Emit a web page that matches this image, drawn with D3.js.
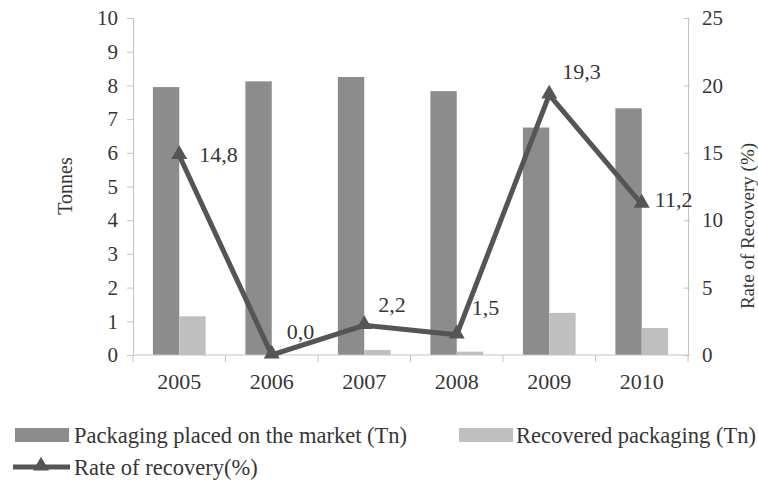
<!DOCTYPE html>
<html>
<head>
<meta charset="utf-8">
<script src="https://cdn.jsdelivr.net/npm/d3@7"></script>
<style>
    html, body { margin: 0; padding: 0; background: #fff; }
    svg text { font-family: "Liberation Serif", "DejaVu Serif", serif; fill: #363636; }
</style>
</head>
<body>
<svg id="chart" width="758" height="481"></svg>
<script>
// Data
const years = ['2005', '2006', '2007', '2008', '2009', '2010'];
const placedOnMarket = [7.95, 8.12, 8.25, 7.83, 6.75, 7.32];
const recovered = [1.15, 0, 0.15, 0.1, 1.25, 0.8];
const recoveryRate = [14.8, 0.0, 2.2, 1.5, 19.3, 11.2];
const leftTicks = [0, 1, 2, 3, 4, 5, 6, 7, 8, 9, 10];
const rightTicks = [0, 5, 10, 15, 20, 25];

const DARK = '#8c8c8c';
const LIGHT = '#bfbfbf';
const LINE = '#555555';
const AXIS = '#c4c4c4';

const svg = d3.select('#chart');
const margin = { top: 18, right: 70, bottom: 126, left: 133 };
const width = 758 - margin.left - margin.right;
const height = 481 - margin.top - margin.bottom;

const g = svg.append('g').attr('transform', `translate(${margin.left},${margin.top})`);

const x0 = d3.scaleBand().domain(years).range([0, width])
    .paddingInner(0.43).paddingOuter(0.215);
const x1 = d3.scaleBand().domain(['market', 'recovered']).range([0, x0.bandwidth()]);
const y = d3.scaleLinear().domain([0, 10]).range([height, 0]);
const yR = d3.scaleLinear().domain([0, 25]).range([height, 0]);

// Bars
const rows = years.map((yr, i) => ({ year: yr, market: placedOnMarket[i], recovered: recovered[i] }));
const groups = g.selectAll('.grp').data(rows).join('g')
    .attr('transform', d => `translate(${x0(d.year)},0)`);
groups.append('rect')
    .attr('x', x1('market')).attr('width', x1.bandwidth())
    .attr('y', d => y(d.market)).attr('height', d => height - y(d.market))
    .attr('fill', DARK);
groups.append('rect')
    .attr('x', x1('recovered')).attr('width', x1.bandwidth())
    .attr('y', d => y(d.recovered)).attr('height', d => height - y(d.recovered))
    .attr('fill', LIGHT);

// Axes
const styleAxis = sel => {
    sel.select('.domain').attr('stroke', AXIS);
    sel.selectAll('.tick line').attr('stroke', AXIS);
    sel.selectAll('.tick text').attr('fill', '#363636').attr('font-size', '21px')
        .style('font-family', '"Liberation Serif", serif');
};

g.append('g')
    .call(d3.axisLeft(y).tickValues(leftTicks).tickSize(6).tickSizeOuter(6).tickPadding(9))
    .call(styleAxis);

g.append('g')
    .attr('transform', `translate(${width},0)`)
    .call(d3.axisRight(yR).tickValues(rightTicks).tickSize(0).tickPadding(14))
    .call(styleAxis)
    .call(a => a.selectAll('.tick').append('line')
        .attr('x1', -4).attr('x2', 2).attr('stroke', AXIS));

const xAxis = g.append('g').attr('transform', `translate(0,${height})`);
xAxis.append('line').attr('x1', 0).attr('x2', width).attr('stroke', AXIS);
// tick marks sit on the category boundaries
const boundaries = d3.range(years.length + 1).map(i => i * x0.step());
xAxis.selectAll('.bnd').data(boundaries).join('line')
    .attr('x1', d => d).attr('x2', d => d).attr('y1', 0).attr('y2', 7)
    .attr('stroke', AXIS);
xAxis.selectAll('.cat').data(years).join('text')
    .attr('x', d => x0(d) + x0.bandwidth() / 2)
    .attr('y', 34)
    .attr('text-anchor', 'middle')
    .attr('font-size', '22px')
    .text(d => d);

// Rate line
const cx = i => x0(years[i]) + x0.bandwidth() / 2;
const line = d3.line().x((d, i) => cx(i)).y(d => yR(d));
g.append('path').datum(recoveryRate)
    .attr('d', line)
    .attr('fill', 'none')
    .attr('stroke', LINE)
    .attr('stroke-width', 5)
    .attr('stroke-linejoin', 'miter');

const tri = d3.symbol().type(d3.symbolTriangle).size(110);
g.selectAll('.mk').data(recoveryRate).join('path')
    .attr('d', tri)
    .attr('transform', (d, i) => `translate(${cx(i)},${yR(d) - 1})`)
    .attr('fill', LINE);

// label offsets (dx, dy) from each point
const labelOffsets = [[20, 7], [15, -16], [14, -13], [15, -20], [13, -16], [13, 3]];
const fmt = v => v.toFixed(1).replace('.', ',');
g.selectAll('.lbl').data(recoveryRate).join('text')
    .attr('x', (d, i) => cx(i) + labelOffsets[i][0])
    .attr('y', (d, i) => yR(d) + labelOffsets[i][1])
    .attr('font-size', '22px')
    .text(fmt);

// Axis titles
svg.append('text')
    .attr('transform', 'translate(72,186) rotate(-90)')
    .attr('text-anchor', 'middle')
    .attr('font-size', '20px')
    .text('Tonnes');
svg.append('text')
    .attr('transform', 'translate(754,226) rotate(-90)')
    .attr('text-anchor', 'middle')
    .attr('font-size', '19px')
    .text('Rate of Recovery (%)');

// Legend
const legend = svg.append('g');
legend.append('rect').attr('x', 15).attr('y', 428).attr('width', 54).attr('height', 14).attr('fill', DARK);
legend.append('text').attr('x', 74).attr('y', 443).attr('font-size', '22.5px')
    .text('Packaging placed on the market (Tn)');
legend.append('rect').attr('x', 459).attr('y', 428).attr('width', 54).attr('height', 14).attr('fill', LIGHT);
legend.append('text').attr('x', 516).attr('y', 443).attr('font-size', '22.5px')
    .text('Recovered packaging (Tn)');
legend.append('line').attr('x1', 13).attr('x2', 70).attr('y1', 467).attr('y2', 467)
    .attr('stroke', LINE).attr('stroke-width', 5);
legend.append('path').attr('d', tri).attr('transform', 'translate(41,466)').attr('fill', LINE);
legend.append('text').attr('x', 74).attr('y', 475).attr('font-size', '22.5px')
    .text('Rate of recovery(%)');
</script>
</body>
</html>
